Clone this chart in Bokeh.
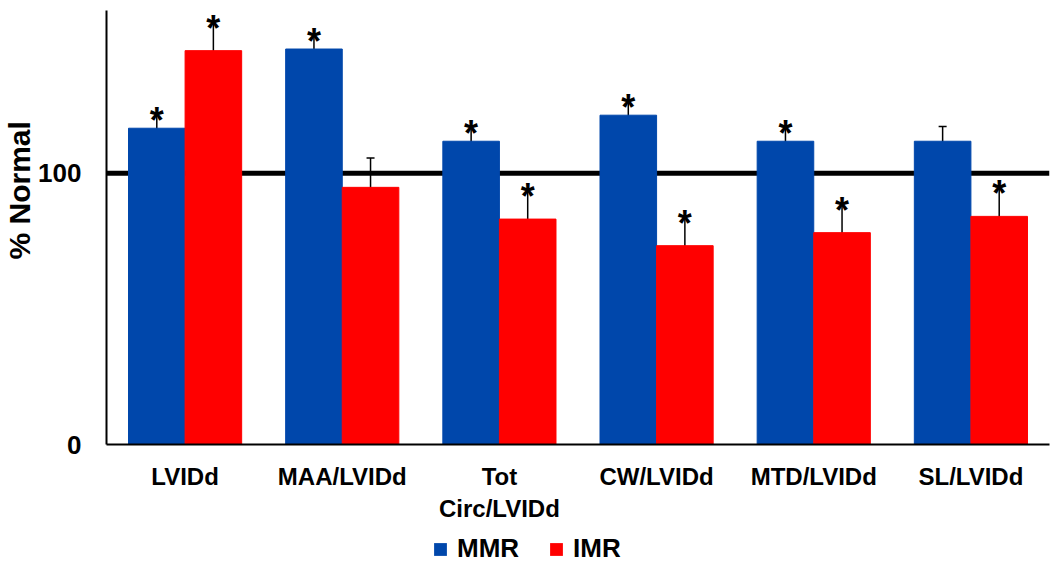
from bokeh.plotting import figure
from bokeh.layouts import column
from bokeh.models import (ColumnDataSource, FactorRange, Range1d, Span, Whisker, TeeHead,
                          Legend, LegendItem, FixedTicker, Title)
from bokeh.transform import dodge
from bokeh.core.properties import value
from bokeh.embed import file_html
from bokeh.resources import INLINE

# ---- data ----
categories = ["LVIDd", "MAA/LVIDd", "Tot\nCirc/LVIDd", "CW/LVIDd", "MTD/LVIDd", "SL/LVIDd"]
mmr = [116.6, 145.8, 111.8, 121.4, 111.8, 111.8]
mmr_err = [5.6, 5.4, 5.5, 5.4, 5.3, 5.4]
imr = [145.2, 94.8, 83.1, 73.3, 78.1, 84.1]
imr_err = [10.9, 10.8, 10.9, 10.9, 10.9, 10.9]
mmr_sig = [True, True, True, True, True, False]
imr_sig = [True, False, True, True, True, True]
series_names = ["MMR", "IMR"]
y_ticks = [0, 100]
normal_level = 100
y_label = "% Normal"

BLUE = "#0047AB"
RED = "#FF0000"
FONT = "Liberation Sans"

p = figure(x_range=FactorRange(*categories), y_range=Range1d(0, 160),
           width=1050, height=530, output_backend="svg", toolbar_location=None,
           min_border_left=106, min_border_right=1, min_border_top=10, min_border_bottom=86)
p.outline_line_color = None
p.xgrid.grid_line_color = None
p.ygrid.grid_line_color = None
p.background_fill_color = "white"

# reference line at 100 (behind bars)
p.add_layout(Span(location=normal_level, dimension="width", line_color="black",
                  line_width=5, level="underlay"))

def src(vals, errs):
    return ColumnDataSource(dict(cat=categories, val=vals,
                                 upper=[v + e for v, e in zip(vals, errs)],
                                 lower=[v - e for v, e in zip(vals, errs)]))

s_mmr = src(mmr, mmr_err)
s_imr = src(imr, imr_err)

OFF = 0.18
W = 0.36
r1 = p.vbar(x=dodge("cat", -OFF, range=p.x_range), top="val", width=W, source=s_mmr,
            fill_color=BLUE, line_color=BLUE)
r2 = p.vbar(x=dodge("cat", OFF, range=p.x_range), top="val", width=W, source=s_imr,
            fill_color=RED, line_color=RED)

for s, off in ((s_mmr, -OFF), (s_imr, OFF)):
    w = Whisker(source=s, base=dodge("cat", off, range=p.x_range), upper="upper", lower="lower",
                line_color="black", line_width=1.5,
                upper_head=TeeHead(size=8, line_color="black", line_width=1.5),
                lower_head=TeeHead(size=8, line_color="black", line_width=1.5))
    p.add_layout(w)

# significance asterisks
for vals, errs, sig, off in ((mmr, mmr_err, mmr_sig, -OFF), (imr, imr_err, imr_sig, OFF)):
    cats = [c for c, g in zip(categories, sig) if g]
    ups = [v + e for v, e, g in zip(vals, errs, sig) if g]
    st = ColumnDataSource(dict(cat=cats, y=ups))
    p.text(x=dodge("cat", off, range=p.x_range), y="y", text=value("*"), source=st,
           text_font=value(FONT), text_font_style="bold", text_font_size="36px",
           text_align="center", text_baseline="middle", text_color="black", y_offset=7)

# axes
for ax in (p.xaxis[0], p.yaxis[0]):
    ax.axis_line_color = "black"
    ax.axis_line_width = 2
    ax.major_tick_line_color = None
    ax.minor_tick_line_color = None
    ax.major_tick_out = 0
    ax.major_tick_in = 0
    ax.major_label_text_font = FONT
    ax.major_label_text_font_style = "bold"
    ax.major_label_text_color = "black"

p.xaxis.major_label_text_font_size = "24px"
p.xaxis.major_label_standoff = 18
p.yaxis.ticker = FixedTicker(ticks=y_ticks)
p.yaxis.major_label_text_font_size = "26px"
p.yaxis.major_label_standoff = 25

# y-axis title (rotated, in the left panel)
p.add_layout(Title(text=y_label, align="left", offset=185, standoff=0,
                   text_font=FONT, text_font_style="bold", text_font_size="30px",
                   text_color="black"), "left")

# legend strip below the chart
p2 = figure(width=1050, height=34, output_backend="svg", toolbar_location=None,
            x_range=Range1d(0, 1), y_range=Range1d(0, 1), x_axis_type=None, y_axis_type=None,
            min_border=0)
p2.outline_line_color = None
p2.grid.visible = False
d1 = p2.vbar(x=[0.5], top=[0], bottom=[0], width=0, fill_color=BLUE, line_color=None)
d2 = p2.vbar(x=[0.5], top=[0], bottom=[0], width=0, fill_color=RED, line_color=None)
legend = Legend(items=[LegendItem(label=series_names[0], renderers=[d1]),
                       LegendItem(label=series_names[1], renderers=[d2])],
                orientation="horizontal", location=(326, 0),
                border_line_color=None, background_fill_alpha=0,
                label_text_font=FONT, label_text_font_style="bold", label_text_font_size="26px",
                label_text_color="black",
                glyph_width=16, glyph_height=16, label_standoff=9, spacing=29,
                padding=0, margin=0)
p2.add_layout(legend, "center")

layout = column(p, p2, spacing=0)
open("out.html", "w").write(file_html(layout, INLINE))
